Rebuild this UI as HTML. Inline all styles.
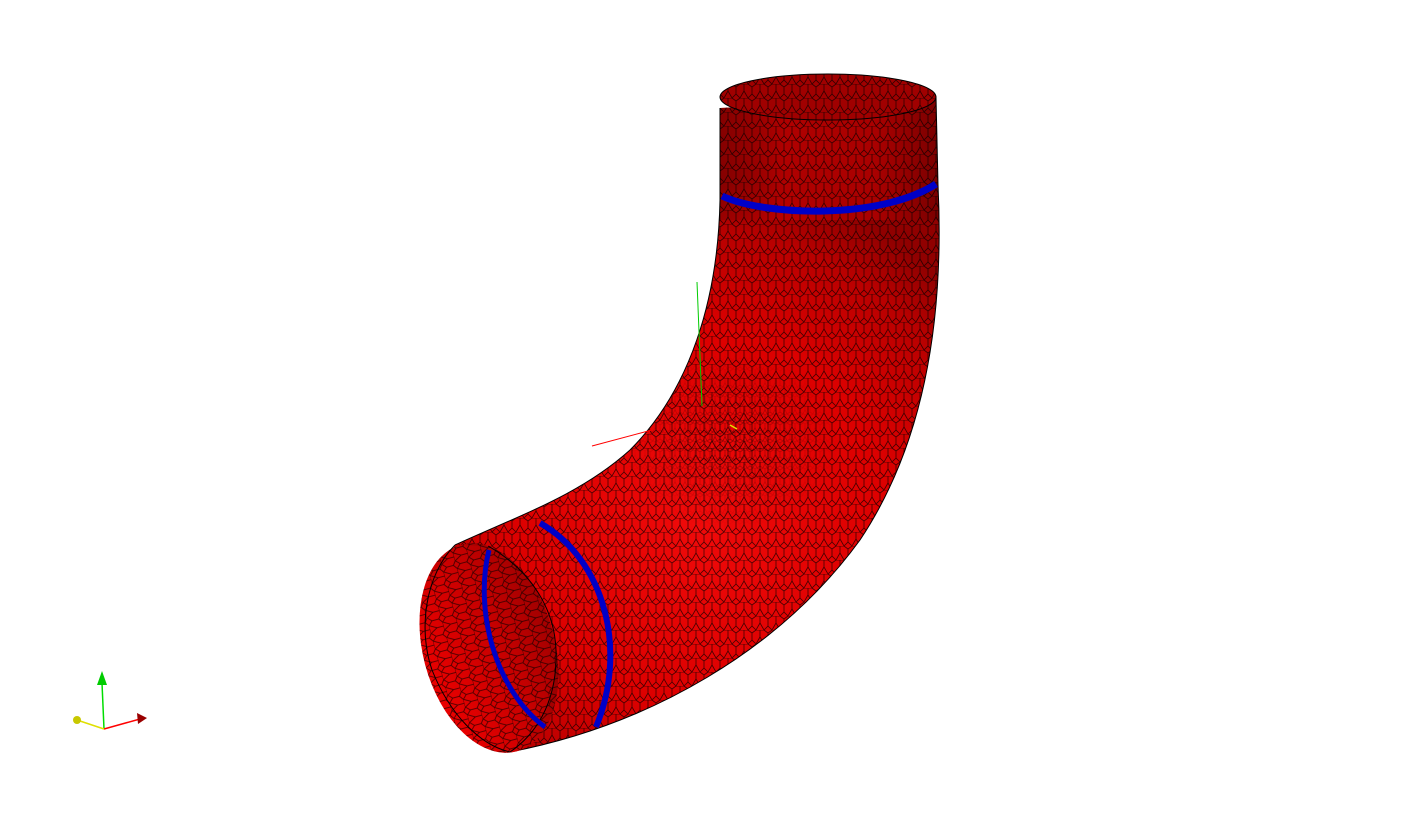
<!DOCTYPE html>
<html><head><meta charset="utf-8"><style>
html,body{margin:0;padding:0;background:#fff;}
svg{display:block}
</style></head><body>
<svg width="1405" height="834" viewBox="0 0 1405 834" xmlns="http://www.w3.org/2000/svg">
<defs>
<pattern id="mesh" width="16" height="14" patternUnits="userSpaceOnUse">
<path d="M0,3 L4,0 L12,0 L16,3 M0,3 L0,10 L4,14 M16,3 L16,10 L12,14 M8,7 L4,14 M8,7 L12,14 M8,7 L8,0" fill="none" stroke="#000" stroke-width="0.8" opacity="0.7"/>
</pattern>
<pattern id="meshSmall" width="10" height="9" patternUnits="userSpaceOnUse">
<path d="M0,2 L3,0 L7,0 L10,2 M0,2 L0,7 L3,9 M10,2 L10,7 L7,9 M5,4.5 L3,9 M5,4.5 L7,9 M5,4.5 L5,0" fill="none" stroke="#000" stroke-width="0.6" opacity="0.5"/>
</pattern>
<radialGradient id="bodyG" cx="700" cy="520" r="340" gradientUnits="userSpaceOnUse">
<stop offset="0" stop-color="#f00a0a"/>
<stop offset="0.55" stop-color="#dc0000"/>
<stop offset="0.85" stop-color="#b80000"/>
<stop offset="1" stop-color="#900000"/>
</radialGradient>
<linearGradient id="topSide" x1="0" y1="0" x2="1" y2="0">
<stop offset="0" stop-color="#700000" stop-opacity="0.35"/><stop offset="0.3" stop-color="#d00000" stop-opacity="0.5"/><stop offset="0.7" stop-color="#d00000" stop-opacity="0.4"/><stop offset="1" stop-color="#600000" stop-opacity="0.5"/>
</linearGradient>
<radialGradient id="softMesh" cx="0.5" cy="0.5" r="0.5">
<stop offset="0" stop-color="#fff" stop-opacity="1"/><stop offset="1" stop-color="#fff" stop-opacity="0"/>
</radialGradient>
<mask id="softMask"><ellipse cx="730" cy="440" rx="110" ry="90" fill="url(#softMesh)"/></mask>
<linearGradient id="openG" x1="0" y1="0" x2="0.3" y2="1">
<stop offset="0" stop-color="#700000"/><stop offset="0.5" stop-color="#b80000"/><stop offset="1" stop-color="#e80000"/>
</linearGradient>
<clipPath id="bodyClip"><path d="M720,108 L720,200 C718,300 690,390 630,450 C580,495 520,515 455,545 L421,620 L510,752 C650,725 780,650 860,540 C920,450 945,330 938,185 L936,97 Z"/></clipPath>
</defs>

<g>
<path d="M720,108 L720,200 C718,300 690,390 630,450 C580,495 520,515 455,545 L421,620 L510,752 C650,725 780,650 860,540 C920,450 945,330 938,185 L936,97 Z" fill="url(#bodyG)"/>
<rect x="718" y="90" width="222" height="130" fill="url(#topSide)" clip-path="url(#bodyClip)"/>
<rect x="400" y="80" width="560" height="700" fill="url(#mesh)" clip-path="url(#bodyClip)"/>
<rect x="600" y="340" width="260" height="200" fill="url(#meshSmall)" mask="url(#softMask)" clip-path="url(#bodyClip)"/>
<path d="M720,108 L720,200 C718,300 690,390 630,450 C580,495 520,515 455,545 M510,752 C650,725 780,650 860,540 C920,450 945,330 938,185 L936,97" fill="none" stroke="#000" stroke-width="1"/>
</g>

<g>
<ellipse cx="828" cy="97" rx="108" ry="23" fill="#a00000"/>
<ellipse cx="828" cy="97" rx="108" ry="23" fill="url(#mesh)"/>
<ellipse cx="828" cy="97" rx="108" ry="23" fill="none" stroke="#000" stroke-width="1"/>
</g>

<g>
<ellipse cx="489" cy="648" rx="107" ry="66" transform="rotate(75 489 648)" fill="url(#openG)"/>
<path d="M488,546 C530,570 558,610 556,660 C555,705 535,735 510,752 C470,735 440,700 428,660 C420,620 430,575 455,545 Z" fill="#e00000" opacity="0.35"/>
<ellipse cx="489" cy="648" rx="107" ry="66" transform="rotate(75 489 648)" fill="url(#mesh)"/>
<path d="M488,546 C530,570 558,610 556,660 C555,705 535,735 510,752" fill="none" stroke="#000" stroke-width="1"/>
<path d="M455,545 C425,575 418,630 432,670 C450,715 480,745 510,752" fill="none" stroke="#000" stroke-width="1"/>
</g>

<g>
<path d="M722,196 C765,216 880,220 936,184" fill="none" stroke="#0000c8" stroke-width="7"/>
<path d="M540,523 C605,560 628,650 596,727" fill="none" stroke="#0000c8" stroke-width="6"/>
<path d="M489,550 C474,610 495,690 545,727" fill="none" stroke="#0000c8" stroke-width="5"/>
</g>

<g>
<line x1="697" y1="282" x2="702" y2="406" stroke="#00cc00" stroke-width="1"/>
<line x1="592" y1="446" x2="652" y2="430" stroke="#ff0000" stroke-width="1"/>
<line x1="730" y1="425" x2="737" y2="429" stroke="#e0e000" stroke-width="1.5"/>
</g>

<g>
<line x1="104" y1="729" x2="102" y2="683" stroke="#00dd00" stroke-width="1.5"/>
<polygon points="102,671 97,685 107,685" fill="#00cc00"/>
<line x1="104" y1="729" x2="140" y2="719" stroke="#ff0000" stroke-width="1.5"/>
<polygon points="147,718 137,713 138,724" fill="#990000"/>
<line x1="104" y1="729" x2="80" y2="721" stroke="#e0e000" stroke-width="1.5"/>
<circle cx="77" cy="720" r="4" fill="#c8c800"/>
</g>
</svg>
</body></html>
